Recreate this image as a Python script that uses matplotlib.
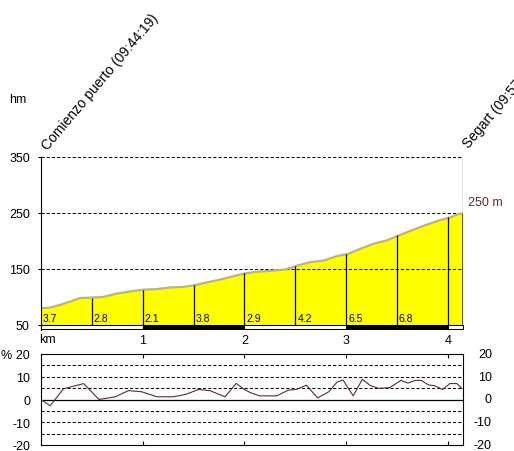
import numpy as np
import matplotlib.pyplot as plt
import matplotlib.transforms as mtransforms

plt.rcParams['font.family'] = ['Liberation Sans', 'DejaVu Sans']

# perfil de altitud (km, m)
km_elev = [0, 0.09, 0.19, 0.29, 0.38, 0.5, 0.61, 0.74, 0.88, 1.0, 1.14, 1.27, 1.4, 1.51,
           1.63, 1.76, 1.89, 2.0, 2.12, 2.28, 2.4, 2.52, 2.64, 2.78, 2.91, 3.02, 3.14,
           3.27, 3.4, 3.52, 3.66, 3.79, 3.92, 4.04, 4.1, 4.15]
elev = [80, 81, 86, 92, 98, 99, 100, 106, 110, 113, 114, 117, 118, 121,
        126, 131, 137, 142, 145, 147, 149, 156, 162, 165, 173, 177, 186,
        195, 201, 210, 220, 229, 237, 243, 248, 249]

# tramos de 500 m
seg_km = [0, 0.5, 1.0, 1.5, 2.0, 2.5, 3.0, 3.5, 4.0]
seg_top = [80, 99, 113, 121, 142, 156, 177, 210, 243]
seg_labels = ['3.7', '2.8', '2.1', '3.8', '2.9', '4.2', '6.5', '6.8']

# pendiente (%)
grad_km = [0, 0.09, 0.22, 0.42, 0.57, 0.73, 0.86, 0.99, 1.14, 1.30, 1.42, 1.55, 1.66,
           1.81, 1.92, 1.99, 2.06, 2.15, 2.32, 2.43, 2.51, 2.61, 2.72, 2.83, 2.91,
           2.97, 3.07, 3.16, 3.24, 3.32, 3.43, 3.54, 3.61, 3.68, 3.74, 3.81, 3.87,
           3.95, 4.02, 4.09, 4.14]
grad = [0, -2.8, 4.7, 7.0, 0.0, 1.2, 3.9, 3.4, 1.2, 1.2, 2.2, 4.4, 3.9,
        1.2, 7.1, 4.7, 3.0, 1.6, 1.6, 4.1, 4.4, 6.3, 0.7, 3.4, 7.6,
        8.6, 1.6, 8.9, 6.1, 4.9, 5.2, 8.4, 7.2, 8.4, 8.4, 6.4, 6.1,
        4.4, 7.0, 7.0, 4.9]

elev_ticks = [50, 150, 250, 350]
grad_ticks = [-20, -10, 0, 10, 20]
km_ticks = [1, 2, 3, 4]
start_label = 'Comienzo puerto (09:44:19)'
end_label = 'Segart (09:57:43)'
km_end = 4.15
brown = '#5a2d2d'
dash = (0, (3, 2))

W, H = 514, 452
fig = plt.figure(figsize=(W / 100, H / 100), dpi=100)

# ---- perfil ----
ax = fig.add_axes([41 / W, 1 - 331 / H, 422 / W, 173 / H])
ax.set_xlim(0, km_end)
ax.set_ylim(41, 350)
for s in ['top', 'right', 'bottom']:
    ax.spines[s].set_visible(False)
ax.spines['left'].set_linewidth(0.8)

ax.fill_between(km_elev, 50, elev, color='#ffff00', lw=0, zorder=1)
ax.plot(km_elev, elev, color='#b0b0b0', lw=1.6, zorder=2)
ax.hlines([150, 250, 350], 0, km_end, colors='black', lw=0.75, linestyles=dash, zorder=1.5)
ax.vlines(seg_km[1:], 50, seg_top[1:], colors='black', lw=0.9, zorder=3)
ax.vlines(km_end, elev[-1], 350, colors='black', lw=0.9, zorder=3)
ax.vlines(km_end, 42, elev[-1], colors=brown, lw=1.2, zorder=3)
for k, lab in zip(seg_km, seg_labels):
    ax.text(k + 0.02, 62, lab, fontsize=7.5, ha='left', va='center', zorder=4)

# barra de km
strip_l = [0, 1, 2, 3, 4]
strip_w = [1, 1, 1, 1, km_end - 4]
strip_c = ['white', 'black', 'white', 'black', 'white']
ax.bar(strip_l, 8, width=strip_w, bottom=42, align='edge', color=strip_c,
       edgecolor='black', lw=0.75, zorder=3, clip_on=False)

ax.set_yticks(elev_ticks)
ax.set_yticklabels([str(v) for v in elev_ticks])
ax.tick_params(axis='y', length=2.2, width=0.8, pad=5.8, labelsize=9)
ax.set_xticks(km_ticks)
ax.set_xticklabels([str(v) for v in km_ticks])
ax.tick_params(axis='x', length=0, pad=3, labelsize=9)
ax.text(-0.02, -0.052, 'km', transform=mtransforms.blended_transform_factory(ax.transData, ax.transAxes),
        fontsize=9, ha='left', va='center')

ax.text(0.07, 363, start_label, rotation=50, rotation_mode='anchor',
        ha='left', va='baseline', fontsize=10)
ax.text(km_end + 0.06, 366, end_label, rotation=50, rotation_mode='anchor',
        ha='left', va='baseline', fontsize=10)
ax.text(4.2, 270, '250 m', color=brown, fontsize=9, ha='left', va='center')
fig.text(18 / W, 1 - 100 / H, 'hm', fontsize=9, ha='center', va='center')

# ---- pendiente ----
ax2 = fig.add_axes([41 / W, 1 - 446 / H, 422 / W, 91 / H])
ax2.set_xlim(0, km_end)
ax2.set_ylim(-20, 20)
for s in ax2.spines.values():
    s.set_linewidth(0.8)
ax2.hlines([-15, -10, -5, 5, 10, 15], 0, km_end, colors='black', lw=0.75, linestyles=dash)
ax2.axhline(0, color='black', lw=0.9)
ax2.plot(grad_km, grad, color=brown, lw=0.8)
ax2.set_xticks(km_ticks)
ax2.tick_params(axis='x', direction='in', top=True, bottom=True, length=3, width=0.8,
                labelbottom=False)
ax2.set_yticks(grad_ticks)
ax2.set_yticklabels(['-20', '-10', '0', '10', '% 20'])
ax2.tick_params(axis='y', length=0, pad=7.9, labelsize=9)
tr = mtransforms.blended_transform_factory(ax2.transAxes, ax2.transData)
for v in grad_ticks:
    ax2.text(1.0687, v, str(v), transform=tr, fontsize=9, ha='right', va='center')

fig.savefig('out.png', dpi=100)
